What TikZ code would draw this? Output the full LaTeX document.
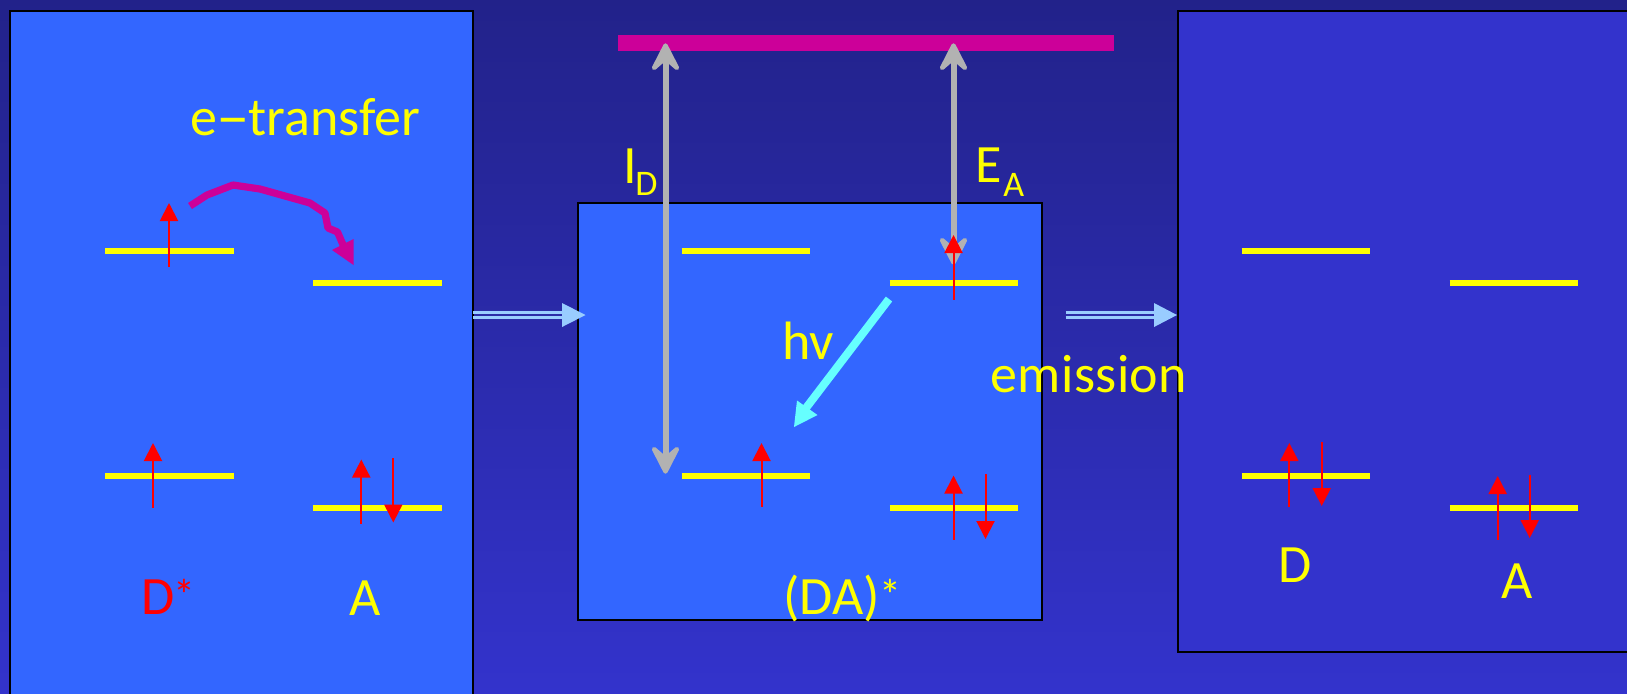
\documentclass[tikz,border=0pt]{standalone}
\usepackage{fontspec}
\setmainfont{Carlito}
\usetikzlibrary{arrows.meta}
\definecolor{panel}{HTML}{3366FF}
\definecolor{panelb}{HTML}{3333CC}
\definecolor{bgtop}{HTML}{22228A}
\definecolor{levelc}{HTML}{FFFF00}
\definecolor{spinc}{HTML}{FF0000}
\definecolor{barc}{HTML}{CC0099}
\definecolor{greyc}{HTML}{B2B2B2}
\definecolor{cyanc}{HTML}{66FFFF}
\definecolor{linkc}{HTML}{99CCFF}
\tikzset{
  x=0.5pt,y=-0.5pt,
  panelbox/.style={draw=black,line width=1pt},
  level/.style={draw=levelc,line width=3pt},
  spin/.style={draw=spinc,line width=1pt,-{Triangle[length=9pt,width=9pt,fill=spinc]}},
  ionise/.style={draw=greyc,line width=3pt},
  ionhead/.style={draw=greyc,fill=greyc,line width=2.2pt,line join=round},
  link/.style={draw=linkc,line width=1.2pt},
  linkhead/.style={fill=linkc,draw=none},
  lab/.style={text=levelc,inner sep=0pt,anchor=base west,font=\fontsize{27}{27}\selectfont},
  labr/.style={lab,text=spinc},
  sublab/.style={text=levelc,inner sep=0pt,anchor=base west,font=\fontsize{18}{18}\selectfont},
}
\newcommand{\lvl}[4]{\coordinate (#1a) at (#2,#4); \coordinate (#1b) at (#3,#4); \draw[level] (#1a) -- (#1b);}
\newcommand{\up}[4]{\coordinate (#1a) at (#2,#3); \coordinate (#1b) at (#2,#4); \draw[spin] (#1a) -- (#1b);}
\newcommand{\hdup}[2]{\filldraw[ionhead] (#1,#2+2.5) -- (#1-11.5,#2+25) -- (#1,#2+15) -- (#1+11.5,#2+25) -- cycle;}
\newcommand{\hddn}[2]{\filldraw[ionhead] (#1,#2-2.5) -- (#1-11.5,#2-25) -- (#1,#2-15) -- (#1+11.5,#2-25) -- cycle;}
\newcommand{\smstar}{{\fontsize{22}{22}\selectfont\raisebox{1.6pt}{*}}}
\begin{document}
\begin{tikzpicture}
\useasboundingbox (0,0) rectangle (1627,693);
\shade[top color=bgtop,bottom color=panelb] (0,0) rectangle (1627,693);
\draw[panelbox,fill=panel] (9.5,11) rectangle (473,700);
\draw[panelbox,fill=panel] (577.5,203) rectangle (1042,619.5);
\draw[panelbox,fill=panelb] (1178,11) rectangle (1640,651.5);
\fill[barc] (617.5,35) rectangle (1113.5,50.5);
% levels, panel 1
\lvl{p}{105}{233.5}{250.7}
\lvl{q}{313}{441.5}{282.7}
\lvl{r}{105}{233.5}{475.5}
\lvl{s}{313}{441.5}{507.5}
% panel 2
\lvl{t}{681.5}{809.5}{250.7}
\lvl{u}{889.5}{1017.5}{282.7}
\lvl{v}{681.5}{809.5}{475.5}
\lvl{w}{889.5}{1017.5}{507.5}
% panel 3
\lvl{x}{1241.5}{1369.5}{250.7}
\lvl{y}{1449.5}{1577.5}{282.7}
\lvl{z}{1241.5}{1369.5}{475.5}
\lvl{k}{1449.5}{1577.5}{507.5}
% grey double arrows
\coordinate (idt) at (665.5,55); \coordinate (idb) at (665.5,460);
\coordinate (eat) at (953.5,55); \coordinate (eab) at (953.5,251);
\draw[ionise] (idt) -- (idb);
\draw[ionise] (eat) -- (eab);
\hdup{665.5}{43}
\hddn{665.5}{474}
\hdup{953.5}{43}
\hddn{953.5}{265}
% spins
\up{s1}{169}{267}{203}
\up{s2}{153}{507.5}{443}
\up{s3}{361.3}{524}{459.5}
\up{s4}{393.3}{458}{522.5}
\up{s5}{953.5}{299.5}{235}
\up{s6}{761.5}{507}{443}
\up{s7}{953.5}{539.5}{475.5}
\up{s8}{985.5}{474}{539}
\up{s9}{1289.3}{507}{443}
\up{s10}{1321.7}{442}{506}
\up{s11}{1497.7}{539.5}{476}
\up{s12}{1529.7}{474.5}{538}
% transfer
\coordinate (e0) at (190,206);
\coordinate (eh) at (344,247);
\draw[barc,line width=3.6pt,line join=round] (e0) -- (207,195) -- (233,185) -- (260,189) -- (310,203) -- (325,213) -- (328,228) -- (337.5,232) -- (eh);
\fill[barc] (353.5,265) -- (353.5,239) -- (332,250) -- cycle;
% emission
\coordinate (h0) at (889,299);
\coordinate (h1) at (806,408);
\draw[cyanc,line width=4pt] (h0) -- (h1);
\fill[cyanc] (794,427) -- (797,400.5) -- (817.5,415) -- cycle;
% links
\foreach \xa/\xb/\xc in {473/562/585.5,1065.5/1154/1177}{
  \draw[link] (\xa,312.5) -- (\xb,312.5);
  \draw[link] (\xa,317.5) -- (\xb,317.5);
  \fill[linkhead] (\xc,315) -- (\xb,303) -- (\xb,327) -- cycle;
}
% labels
\node[lab] (l1) at (190,135) {e\scalebox{1.9}[1]{-}transfer};
\node[lab] (l2) at (623,183) {I};
\node[sublab] (l2s) at (635,195.5) {D};
\node[lab] (l3) at (975,182) {E};
\node[sublab] (l3s) at (1003,196) {A};
\node[lab] (l4) at (782,359.5) {hv};
\node[lab] (l5) at (990,392) {\addfontfeature{LetterSpace=0.8}emission};
\node[lab] (l6) at (783,614) {(DA)\smstar};
\node[labr] (l7) at (141,614) {D\kern-0.5pt\smstar};
\node[lab] (l8) at (349,615) {A};
\node[lab] (l9) at (1278,582.5) {D};
\node[lab] (l10) at (1501,598.5) {A};
\end{tikzpicture}
\end{document}
